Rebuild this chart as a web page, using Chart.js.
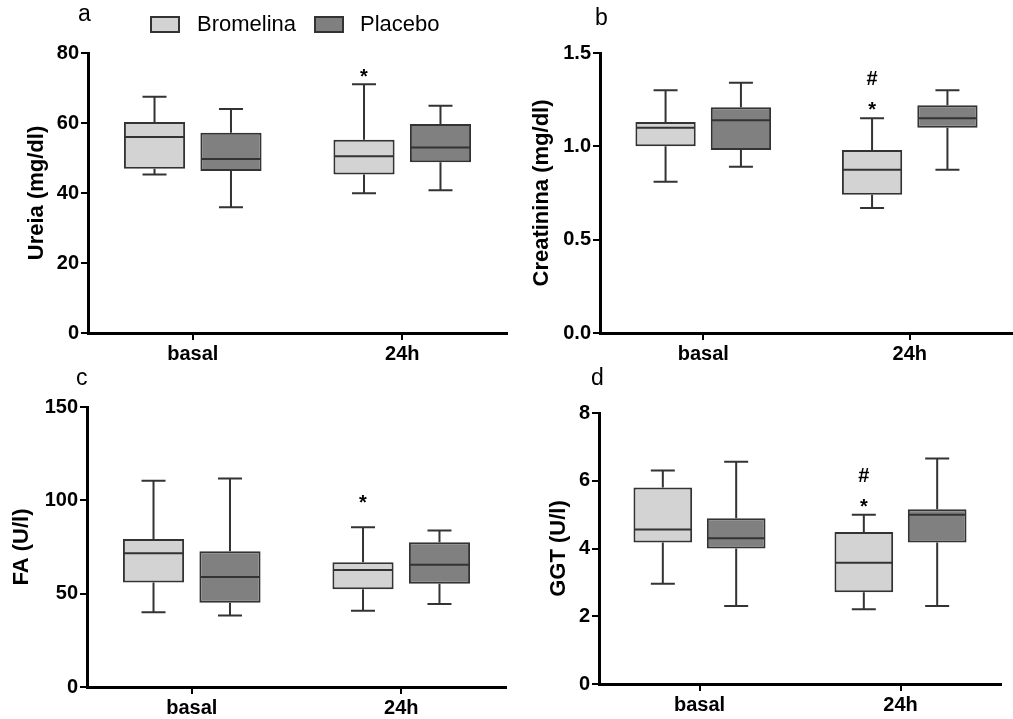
<!DOCTYPE html>
<html>
<head>
<meta charset="utf-8">
<script src="https://cdn.jsdelivr.net/npm/chart.js@4.4.1/dist/chart.umd.min.js"></script>
<style>
  body { margin: 0; background: #fff; font-family: Arial, "Liberation Sans", sans-serif; }
  #wrap { position: relative; width: 1013px; height: 719px; overflow: hidden; }
  canvas { position: absolute; }
  .letter { position: absolute; font-size: 23px; color: #000; line-height: 1; }
  .leg-box { position: absolute; width: 26px; height: 13px; border: 2px solid #333; }
  .leg-text { position: absolute; font-size: 22px; color: #000; line-height: 1; }
</style>
</head>
<body>
<div id="wrap">
  <canvas id="chart-a" width="510" height="370" style="left:0;top:0"></canvas>
  <canvas id="chart-b" width="508" height="370" style="left:505px;top:0"></canvas>
  <canvas id="chart-c" width="510" height="359" style="left:0;top:360px"></canvas>
  <canvas id="chart-d" width="508" height="359" style="left:505px;top:360px"></canvas>

  <div class="letter" style="left:78px;top:2px">a</div>
  <div class="letter" style="left:595px;top:6px">b</div>
  <div class="letter" style="left:76px;top:366px">c</div>
  <div class="letter" style="left:591px;top:366px">d</div>

  <div class="leg-box" style="left:150px;top:16px;background:#d3d3d3"></div>
  <div class="leg-text" style="left:197px;top:13px">Bromelina</div>
  <div class="leg-box" style="left:314px;top:16px;background:#808080"></div>
  <div class="leg-text" style="left:360px;top:13px">Placebo</div>
</div>

<script>
// categorias
const groups = ["basal", "24h"];
const seriesNames = ["Bromelina", "Placebo"];

// cada linha: [min, q1, mediana, q3, max]
const ureiaBromelina = [[45.3, 46.9, 56.0, 60.3, 67.5], [39.9, 45.3, 50.5, 55.2, 71.1]];
const ureiaPlacebo   = [[35.9, 46.3, 49.7, 57.2, 64.0], [40.8, 48.8, 53.0, 59.7, 64.9]];

const creatBromelina = [[0.81, 1.00, 1.10, 1.13, 1.30], [0.67, 0.74, 0.875, 0.98, 1.15]];
const creatPlacebo   = [[0.89, 0.98, 1.14, 1.21, 1.34], [0.875, 1.10, 1.15, 1.22, 1.30]];

const faBromelina = [[40.1, 56.0, 71.6, 79.3, 110.5], [40.8, 52.3, 62.7, 66.8, 85.6]];
const faPlacebo   = [[38.3, 45.1, 58.9, 72.7, 111.7], [44.4, 55.3, 65.5, 77.6, 83.8]];

const ggtBromelina = [[2.96, 4.18, 4.56, 5.80, 6.30], [2.21, 2.71, 3.58, 4.49, 5.00]];
const ggtPlacebo   = [[2.30, 4.00, 4.30, 4.89, 6.56], [2.30, 4.18, 5.00, 5.16, 6.66]];

// marcas de significancia: [grupo, serie, texto, valor]
const marksA = [[1, 0, "*", 74.6]];
const marksB = [[1, 0, "*", 1.223], [1, 0, "#", 1.368]];
const marksC = [[1, 0, "*", 101.3]];
const marksD = [[1, 0, "*", 5.39], [1, 0, "#", 6.18]];

const FONT = "Arial, 'Liberation Sans', sans-serif";
const fills = ["#d3d3d3", "#808080"];

// bigotes, medianas y marcas
const boxPlugin = {
  id: "boxes",
  afterDatasetsDraw(chart, args, opts) {
    const ctx = chart.ctx;
    const y = chart.scales.y;
    ctx.save();
    ctx.strokeStyle = "#333";
    ctx.lineWidth = 2;
    chart.data.datasets.forEach((ds, di) => {
      const meta = chart.getDatasetMeta(di);
      meta.data.forEach((bar, i) => {
        const s = ds.stats[i];
        const x = bar.x;
        const half = bar.width / 2;
        const cap = 12;
        const yMin = y.getPixelForValue(s[0]);
        const yQ1 = y.getPixelForValue(s[1]);
        const yMed = y.getPixelForValue(s[2]);
        const yQ3 = y.getPixelForValue(s[3]);
        const yMax = y.getPixelForValue(s[4]);
        ctx.beginPath();
        ctx.moveTo(x, yQ3); ctx.lineTo(x, yMax);
        ctx.moveTo(x - cap, yMax); ctx.lineTo(x + cap, yMax);
        ctx.moveTo(x, yQ1); ctx.lineTo(x, yMin);
        ctx.moveTo(x - cap, yMin); ctx.lineTo(x + cap, yMin);
        ctx.moveTo(x - half + 1, yMed); ctx.lineTo(x + half - 1, yMed);
        ctx.stroke();
      });
    });
    ctx.fillStyle = "#000";
    ctx.textAlign = "center";
    ctx.textBaseline = "alphabetic";
    ctx.font = "bold 20px " + FONT;
    (opts.marks || []).forEach(m => {
      const bar = chart.getDatasetMeta(m[1]).data[m[0]];
      const cy = y.getPixelForValue(m[3]);
      const shift = m[2] === "*" ? 0.57 * 20 : 0.36 * 20;
      ctx.fillText(m[2], bar.x, cy + shift);
    });
    ctx.restore();
  }
};

function makePanel(id, brom, plac, cfg) {
  const ctx = document.getElementById(id).getContext("2d");
  const sets = [brom, plac].map((stats, k) => ({
    label: seriesNames[k],
    data: stats.map(s => [s[1], s[3]]),
    stats: stats,
    backgroundColor: fills[k],
    borderColor: "#333",
    borderWidth: 2,
    borderSkipped: false,
    categoryPercentage: 0.73,
    barPercentage: 0.8
  }));
  return new Chart(ctx, {
    type: "bar",
    data: { labels: groups, datasets: sets },
    plugins: [boxPlugin],
    options: {
      responsive: false,
      animation: false,
      layout: { padding: { top: cfg.top, right: cfg.right, left: 0, bottom: 0 } },
      plugins: {
        legend: { display: false },
        tooltip: { enabled: false },
        boxes: { marks: cfg.marks }
      },
      scales: {
        x: {
          type: "category",
          offset: true,
          afterFit: s => { s.height = cfg.xh; },
          grid: { drawOnChartArea: false, offset: false, tickLength: 7, color: "#000", lineWidth: 2 },
          border: { color: "#000", width: 3 },
          ticks: { color: "#000", padding: 2, font: { family: FONT, size: 20, weight: "bold" } }
        },
        y: {
          min: 0,
          max: cfg.max,
          afterFit: s => { s.width = cfg.yw; },
          grid: { drawOnChartArea: false, tickLength: 7, color: "#000", lineWidth: 2 },
          border: { color: "#000", width: 3 },
          ticks: {
            stepSize: cfg.step,
            color: "#000",
            padding: 2,
            font: { family: FONT, size: 20, weight: "bold" },
            callback: v => cfg.decimals ? v.toFixed(cfg.decimals) : String(v)
          },
          title: {
            display: true,
            text: cfg.title,
            color: "#000",
            padding: { top: cfg.tpad, bottom: 0 },
            font: { family: FONT, size: 22, weight: "bold" }
          }
        }
      }
    }
  });
}

makePanel("chart-a", ureiaBromelina, ureiaPlacebo,
  { title: "Ureia (mg/dl)", max: 80, step: 20, top: 53, right: 3, yw: 88, xh: 37, tpad: 24, marks: marksA });
makePanel("chart-b", creatBromelina, creatPlacebo,
  { title: "Creatinina (mg/dl)", max: 1.5, step: 0.5, decimals: 1, top: 53, right: 0, yw: 95, xh: 37, tpad: 24, marks: marksB });
makePanel("chart-c", faBromelina, faPlacebo,
  { title: "FA (U/l)", max: 150, step: 50, top: 47, right: 4, yw: 87, xh: 32, tpad: 9, marks: marksC });
makePanel("chart-d", ggtBromelina, ggtPlacebo,
  { title: "GGT (U/l)", max: 8, step: 2, top: 53, right: 12, yw: 94, xh: 35, tpad: 41, marks: marksD });
</script>
</body>
</html>
